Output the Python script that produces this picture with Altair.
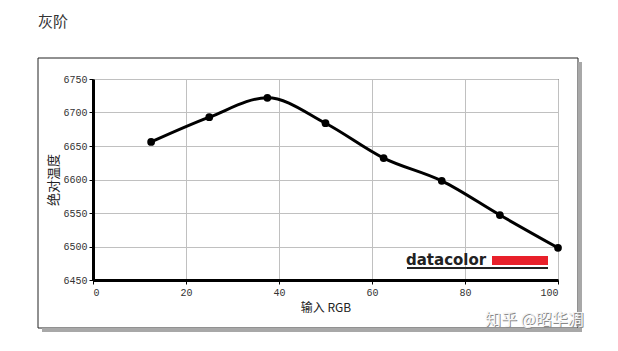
import altair as alt
import pandas as pd

# data
rgb_input = [12.5, 25, 37.5, 50, 62.5, 75, 87.5, 100]
abs_temp = [6656, 6693, 6722, 6684, 6632, 6598, 6547, 6498]
x_ticks = [0, 20, 40, 60, 80, 100]
y_ticks = [6450, 6500, 6550, 6600, 6650, 6700, 6750]

df = pd.DataFrame({"x": rgb_input, "y": abs_temp})
one = pd.DataFrame({"a": [0]})

W, H = 465, 201

xs = alt.X("x:Q", scale=alt.Scale(domain=[0, 100], nice=False),
           axis=alt.Axis(values=x_ticks, title="输入 RGB", grid=True, format="d", labelOverlap=False))
ys = alt.Y("y:Q", scale=alt.Scale(domain=[6450, 6750], nice=False, zero=False),
           axis=alt.Axis(values=y_ticks, title="绝对温度", grid=True, format="d",
                         labelOverlap=False, tickCount=7))

base = alt.Chart(df).encode(x=xs, y=ys)
line = base.mark_line(interpolate="monotone", color="black", strokeWidth=3)
pts = base.mark_circle(color="black", size=60, opacity=1)

# decorative frame and shadow
frame = alt.Chart(one).mark_rect(fillOpacity=0, stroke="#222", strokeWidth=1).encode(
    x=alt.value(-55), x2=alt.value(485), y=alt.value(-21), y2=alt.value(249))
shadow_r = alt.Chart(one).mark_rule(color="#a8a8a8", strokeWidth=4).encode(
    x=alt.value(487), y=alt.value(-17), y2=alt.value(253))
shadow_b = alt.Chart(one).mark_rule(color="#a8a8a8", strokeWidth=4).encode(
    x=alt.value(-51), x2=alt.value(489), y=alt.value(251))

title = alt.Chart(one).mark_text(text="灰阶", align="left", baseline="middle",
                                 font="Noto Sans CJK SC", fontSize=15, color="#333").encode(
    x=alt.value(-55), y=alt.value(-57))

logo_txt = alt.Chart(one).mark_text(text="datacolor", align="left", baseline="alphabetic",
                                    font="DejaVu Sans", fontWeight="bold", fontSize=15, color="#222").encode(
    x=alt.value(313), y=alt.value(186))
logo_red = alt.Chart(one).mark_rect(color="#e8202a").encode(
    x=alt.value(399), x2=alt.value(455), y=alt.value(177), y2=alt.value(186))
logo_ul = alt.Chart(one).mark_rule(color="#222", strokeWidth=2).encode(
    x=alt.value(314), x2=alt.value(455), y=alt.value(189))

wm_shadow = alt.Chart(one).mark_text(text="知乎 @昭华凋", align="left", baseline="middle",
                                     font="Noto Sans CJK SC", fontSize=16, color="#8a8a8a").encode(
    x=alt.value(393), y=alt.value(242))
wm = alt.Chart(one).mark_text(text="知乎 @昭华凋", align="left", baseline="middle",
                              font="Noto Sans CJK SC", fontSize=16, color="#f4f4f4").encode(
    x=alt.value(392), y=alt.value(241))

chart = alt.layer(frame, shadow_r, shadow_b, title, logo_txt, logo_red, logo_ul,
                  line, pts, wm_shadow, wm).properties(
    width=W, height=H,
    autosize=alt.AutoSizeParams(type="none"),
    padding={"left": 93, "top": 79, "right": 60, "bottom": 71},
    background="white",
).configure_view(stroke="black", strokeWidth=1).configure_axis(
    gridColor="#c0c0c0", gridWidth=1, domainColor="black", domainWidth=3,
    tickColor="black", tickSize=4, labelFont="Liberation Mono", labelFontSize=10,
    labelColor="#333", titleFont="Noto Sans CJK SC", titleFontSize=12,
    titleFontWeight="normal", titleColor="#222",
).configure_axisX(labelPadding=3, titlePadding=5).configure_axisY(titlePadding=2, titleFontSize=13)

chart.save("out.html", embed_options={"renderer": "svg", "actions": False})
